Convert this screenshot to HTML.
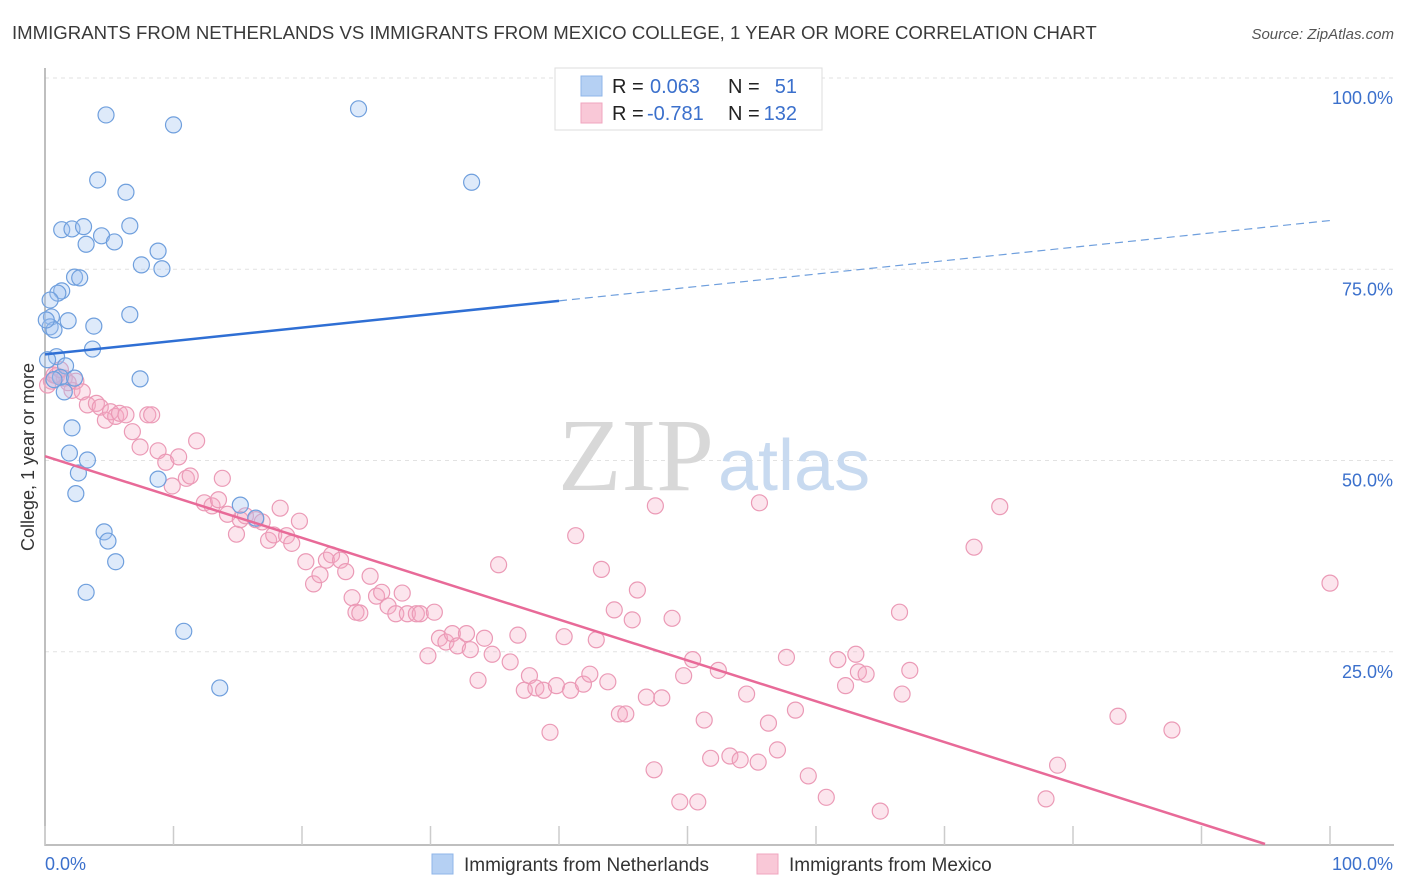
<!DOCTYPE html>
<html><head><meta charset="utf-8"><style>
body{margin:0;background:#fff;font-family:"Liberation Sans",sans-serif}
svg{display:block}
</style></head><body>
<svg id="chart" width="1406" height="892">
<text x="12" y="39" font-size="18.6" fill="#3a3a3a">IMMIGRANTS FROM NETHERLANDS VS IMMIGRANTS FROM MEXICO COLLEGE, 1 YEAR OR MORE CORRELATION CHART</text>
<text x="1394" y="39" font-size="15" fill="#555" font-style="italic" text-anchor="end">Source: ZipAtlas.com</text>
<g id="grid"></g>
<text x="714" y="490" font-size="104" fill="#d8d8d8" text-anchor="end" font-family="Liberation Serif,serif">ZIP</text>
<text x="718" y="490" font-size="72" fill="#c8daf0">atlas</text>
<g id="axes"></g>
<g id="marks"></g>
<text x="34" y="457" font-size="18" fill="#333" text-anchor="middle" transform="rotate(-90 34 457)">College, 1 year or more</text>
<g>
<rect x="555" y="68" width="267" height="62" fill="#fff" stroke="#ddd"/>
<rect x="581" y="76" width="21" height="20" fill="#b5d0f3" stroke="#8fb6e8"/>
<rect x="581" y="103" width="21" height="20" fill="#f9c8d7" stroke="#f0a6bf"/>
<text x="612" y="93" font-size="20" fill="#222">R =</text>
<text x="650" y="93" font-size="20" fill="#3b70cc">0.063</text>
<text x="728" y="93" font-size="20" fill="#222">N =</text>
<text x="797" y="93" font-size="20" fill="#3b70cc" text-anchor="end">51</text>
<text x="612" y="120" font-size="20" fill="#222">R =</text>
<text x="647" y="120" font-size="20" fill="#3b70cc">-0.781</text>
<text x="728" y="120" font-size="20" fill="#222">N =</text>
<text x="797" y="120" font-size="20" fill="#3b70cc" text-anchor="end">132</text>
</g>
<g>
<rect x="432" y="854" width="21" height="20" fill="#b5d0f3" stroke="#8fb6e8"/>
<text x="464" y="871" font-size="19" fill="#333">Immigrants from Netherlands</text>
<rect x="757" y="854" width="21" height="20" fill="#f9c8d7" stroke="#f0a6bf"/>
<text x="789" y="871" font-size="19" fill="#333">Immigrants from Mexico</text>
</g>
</svg>
<script>
const yTicks=[25,50,75,100];
const yTickLabels=["25.0%","50.0%","75.0%","100.0%"];
const xTicks=[0,10,20,30,40,50,60,70,80,90,100];
const blueX=[4.75,10.0,24.4,4.1,6.3,33.2,1.3,2.1,3.0,4.4,3.2,5.4,6.6,8.8,2.3,2.7,1.3,1.0,7.5,9.1,0.4,0.5,0.4,0.7,1.8,3.8,6.6,3.7,0.9,1.6,7.4,1.2,2.3,1.5,2.1,1.9,3.3,2.6,2.4,4.6,4.9,5.5,15.2,16.4,8.8,3.2,10.8,13.6,0.7,0.2,0.1];
const blueY=[95.3,94.0,96.1,86.8,85.2,86.5,80.3,80.4,80.7,79.5,78.4,78.7,80.8,77.5,74.1,74.0,72.3,72.0,75.7,75.2,71.1,68.9,67.6,67.2,68.4,67.7,69.2,64.7,63.7,62.5,60.8,61.0,60.9,59.1,54.4,51.1,50.2,48.5,45.8,40.8,39.6,36.9,44.3,42.6,47.7,32.9,27.8,20.4,60.7,63.3,68.5];
const pinkX=[.5,.9,1.5,2.1,2.4,2.9,3.3,4.0,4.3,4.7,5.1,5.5,5.8,6.3,6.8,7.4,8.0,8.3,8.8,9.4,10.4,9.9,11.0,11.3,11.8,12.4,13.0,13.5,13.8,14.2,14.9,15.2,15.6,16.4,16.9,17.4,17.8,18.3,18.8,19.2,19.8,20.3,20.9,21.4,21.9,22.3,23.0,23.4,23.9,24.2,24.5,25.3,25.8,26.2,26.7,27.3,27.8,28.2,28.9,29.2,29.8,30.3,30.7,31.2,31.7,32.1,32.8,33.1,33.7,34.2,34.8,35.3,36.2,36.8,37.3,37.7,38.2,38.8,39.3,39.8,40.4,40.9,41.3,41.9,42.4,42.9,43.3,43.8,44.3,44.7,45.2,45.7,46.1,46.8,47.5,48.0,48.8,49.7,50.4,47.4,49.4,50.8,51.3,51.8,52.4,53.3,54.1,54.6,55.5,55.6,56.3,57.0,57.7,58.4,59.4,60.8,61.7,62.3,63.1,63.3,63.9,65.0,66.5,66.7,67.3,72.3,74.3,77.9,78.8,83.5,87.7,100,.2,.7,1.2,1.8];
const pinkY=[60.5,61.2,60.9,59.3,60.5,59.1,57.4,57.6,57.1,55.4,56.5,55.9,56.3,56.1,53.9,51.9,56.1,56.1,51.4,49.9,50.6,46.8,47.8,48.1,52.7,44.6,44.2,45.0,47.8,43.1,40.5,42.4,42.9,42.4,42.1,39.7,40.4,43.9,40.3,39.3,42.2,36.9,34.0,35.2,37.1,37.8,37.1,35.6,32.2,30.3,30.2,35.0,32.4,32.9,31.1,30.1,32.8,30.1,30.1,30.1,24.6,30.3,26.9,26.4,27.5,25.9,27.5,25.4,21.4,26.9,24.8,36.5,23.8,27.3,20.1,22.0,20.4,20.1,14.6,20.7,27.1,20.1,40.3,20.9,22.2,26.7,35.9,21.2,30.6,17.0,17.0,29.3,33.2,19.2,44.2,19.1,29.5,22.0,24.1,9.7,5.5,5.5,16.2,11.2,22.7,11.5,11.0,19.6,10.7,44.6,15.8,12.3,24.4,17.5,8.9,6.1,24.1,20.7,24.8,22.5,22.2,4.3,30.3,19.6,22.7,38.8,44.1,5.9,10.3,16.7,14.9,34.1,60.0,61.3,62.0,60.3];
const blueTrend=[64.0,0.175];
const pinkTrend=[50.7,-0.534];

const NS="http://www.w3.org/2000/svg";
const sx=v=>45+v*12.85;
const sy=v=>844-v*7.65;
function mk(tag,attrs,parent){const e=document.createElementNS(NS,tag);for(const k in attrs)e.setAttribute(k,attrs[k]);parent.appendChild(e);return e;}
const grid=document.getElementById('grid'),axes=document.getElementById('axes'),marks=document.getElementById('marks');
yTicks.forEach((t,i)=>{
 const l=mk('line',{x1:45,x2:1394,y1:sy(t)-1,y2:sy(t)-1,stroke:'#e2e2e2','stroke-dasharray':'4 4'},grid);
 
 
 const tx=mk('text',{x:1393,y:sy(t)+25,'font-size':18,fill:'#3b70cc','text-anchor':'end'},axes);
 tx.textContent=yTickLabels[i];
 
 
});
const ax=mk('path',{d:'M45 68 V845 H1394',fill:'none',stroke:'#aaa','stroke-width':1.5},axes);


xTicks.forEach(t=>{
 const l=mk('line',{x1:sx(t),x2:sx(t),y1:826,y2:845,stroke:'#ccc','stroke-width':1.5},axes);
 
 
});
const x0=mk('text',{x:45,y:870,'font-size':18,fill:'#3b70cc'},axes);x0.textContent='0.0%';


const x1=mk('text',{x:1393,y:870,'font-size':18,fill:'#3b70cc','text-anchor':'end'},axes);x1.textContent='100.0%';


pinkX.forEach((x,i)=>{
 const c=mk('circle',{cx:sx(x),cy:sy(pinkY[i]),r:8,fill:'rgba(245,170,195,0.3)',stroke:'#eb9ab6','stroke-width':1.2},marks);
 
 
});
blueX.forEach((x,i)=>{
 const c=mk('circle',{cx:sx(x),cy:sy(blueY[i]),r:8,fill:'rgba(160,196,240,0.35)',stroke:'#6f9fdd','stroke-width':1.2},marks);
 
 
});
const bt=x=>blueTrend[0]+blueTrend[1]*x;
const b1=mk('line',{x1:sx(0),y1:sy(bt(0)),x2:sx(40),y2:sy(bt(40)),stroke:'#2f6fd4','stroke-width':2.5},marks);


const b2=mk('line',{x1:sx(40),y1:sy(bt(40)),x2:sx(100),y2:sy(bt(100)),stroke:'#6f9fdd','stroke-width':1.2,'stroke-dasharray':'8 5'},marks);


const pend=-pinkTrend[0]/pinkTrend[1];
const p1=mk('line',{x1:sx(0),y1:sy(pinkTrend[0]),x2:sx(pend),y2:sy(0),stroke:'#e86a98','stroke-width':2.5},marks);


</script>
</body></html>
